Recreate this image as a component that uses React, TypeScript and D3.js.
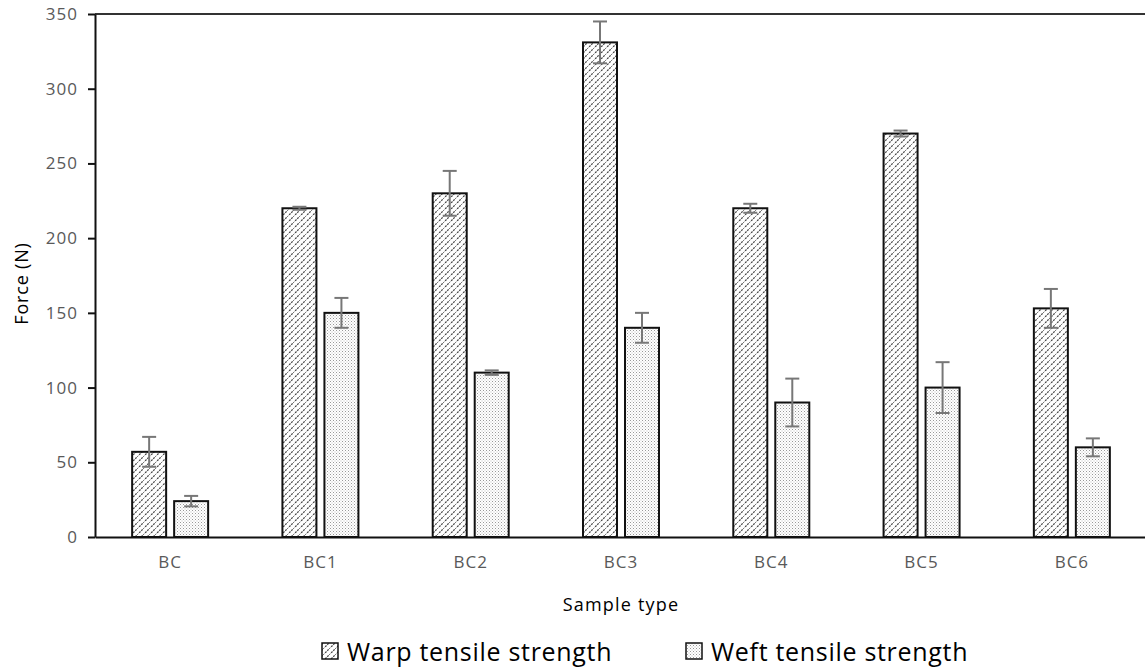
import { useEffect, useRef } from 'react';
import * as d3 from 'd3';

const categories = ['BC', 'BC1', 'BC2', 'BC3', 'BC4', 'BC5', 'BC6'];
const warpValues = [57, 220, 230, 331, 220, 270, 153];
const warpErrors = [10, 1, 15, 14, 3, 2, 13];
const weftValues = [24, 150, 110, 140, 90, 100, 60];
const weftErrors = [3.5, 10, 1.5, 10, 16, 17, 6];
const yTicks = [0, 50, 100, 150, 200, 250, 300, 350];
const seriesNames = ['Warp tensile strength', 'Weft tensile strength'];

const FONT = '"Open Sans", sans-serif';

const App = () => {
  const svgRef = useRef<SVGSVGElement>(null);

  useEffect(() => {
    if (!svgRef.current) return;
    const svg = d3.select(svgRef.current);
    svg.selectAll('*').remove();

    const left = 95;
    const right = 1147;
    const top = 14;
    const bottom = 537;

    // Patterns for the two series
    const defs = svg.append('defs');
    const hatch = defs.append('pattern')
      .attr('id', 'warp')
      .attr('patternUnits', 'userSpaceOnUse')
      .attr('width', 6)
      .attr('height', 6);
    hatch.append('rect').attr('width', 6).attr('height', 6).attr('fill', '#fff');
    hatch.append('path')
      .attr('d', 'M-1,7 L7,-1 M-4,4 L4,-4 M2,10 L10,2')
      .attr('stroke', '#444')
      .attr('stroke-width', 1.2)
      .attr('stroke-dasharray', '2,1');

    const dots = defs.append('pattern')
      .attr('id', 'weft')
      .attr('patternUnits', 'userSpaceOnUse')
      .attr('width', 3)
      .attr('height', 3);
    dots.append('rect').attr('width', 3).attr('height', 3).attr('fill', '#fff');
    dots.append('rect').attr('x', 0).attr('y', 0).attr('width', 1).attr('height', 1).attr('fill', '#999');
    dots.append('rect').attr('x', 1.5).attr('y', 1.5).attr('width', 1).attr('height', 1).attr('fill', '#bbb');

    const x = d3.scaleBand<string>().domain(categories).range([left, right]);
    const y = d3.scaleLinear().domain([0, 350]).range([bottom, top]);

    const barW = 34;
    const offset = 21;

    // top border line
    svg.append('line')
      .attr('x1', left).attr('x2', 1145)
      .attr('y1', y(350)).attr('y2', y(350))
      .attr('stroke', '#333').attr('stroke-width', 2);

    const series = [
      { values: warpValues, errors: warpErrors, fill: 'url(#warp)', dx: -offset },
      { values: weftValues, errors: weftErrors, fill: 'url(#weft)', dx: offset },
    ];

    series.forEach(s => {
      const g = svg.append('g');
      g.selectAll('rect')
        .data(categories)
        .join('rect')
        .attr('x', (c) => x(c)! + x.bandwidth() / 2 + s.dx - barW / 2)
        .attr('y', (_, i) => y(s.values[i]))
        .attr('width', barW)
        .attr('height', (_, i) => bottom - y(s.values[i]))
        .attr('fill', s.fill)
        .attr('stroke', '#111')
        .attr('stroke-width', 2);

      const eb = svg.append('g').attr('stroke', '#777').attr('stroke-width', 2);
      categories.forEach((c, i) => {
        const cx = x(c)! + x.bandwidth() / 2 + s.dx;
        const hi = y(s.values[i] + s.errors[i]);
        const lo = y(s.values[i] - s.errors[i]);
        eb.append('line').attr('x1', cx).attr('x2', cx).attr('y1', hi).attr('y2', lo);
        eb.append('line').attr('x1', cx - 7).attr('x2', cx + 7).attr('y1', hi).attr('y2', hi);
        eb.append('line').attr('x1', cx - 7).attr('x2', cx + 7).attr('y1', lo).attr('y2', lo);
      });
    });

    // Y axis
    const yAxis = svg.append('g')
      .attr('transform', `translate(${left},0)`)
      .call(d3.axisLeft(y).tickValues(yTicks).tickSize(7).tickPadding(10).tickSizeOuter(0));
    yAxis.select('.domain').attr('stroke', '#111').attr('stroke-width', 2);
    yAxis.selectAll('.tick line').attr('stroke', '#111').attr('stroke-width', 2);
    yAxis.selectAll('.tick text')
      .attr('fill', '#595959')
      .attr('font-family', FONT)
      .attr('font-size', 17)
      .attr('letter-spacing', 1);

    // X axis
    const xAxis = svg.append('g')
      .attr('transform', `translate(0,${bottom})`)
      .call(d3.axisBottom(x).tickSize(0).tickPadding(19));
    xAxis.select('.domain').attr('stroke', '#111').attr('stroke-width', 2);
    xAxis.selectAll('.tick text')
      .attr('fill', '#595959')
      .attr('font-family', FONT)
      .attr('font-size', 17)
      .attr('letter-spacing', 1);

    svg.append('text')
      .attr('transform', `translate(28,${(top + bottom) / 2 + 8}) rotate(-90)`)
      .attr('text-anchor', 'middle')
      .attr('font-family', FONT)
      .attr('font-size', 18)
      .attr('letter-spacing', 0.8)
      .attr('fill', '#000')
      .text('Force (N)');

    svg.append('text')
      .attr('x', 621)
      .attr('y', 611)
      .attr('text-anchor', 'middle')
      .attr('font-family', FONT)
      .attr('font-size', 18)
      .attr('letter-spacing', 1.2)
      .attr('fill', '#000')
      .text('Sample type');

    // Legend
    const legendX = [322, 686];
    const fills = ['url(#warp)', 'url(#weft)'];
    seriesNames.forEach((name, i) => {
      svg.append('rect')
        .attr('x', legendX[i]).attr('y', 643)
        .attr('width', 16).attr('height', 16)
        .attr('fill', fills[i])
        .attr('stroke', '#111').attr('stroke-width', 1.5);
      svg.append('text')
        .attr('x', legendX[i] + 25)
        .attr('y', 661)
        .attr('font-family', FONT)
        .attr('font-size', 25)
        .attr('letter-spacing', 0.7)
        .attr('fill', '#000')
        .text(name);
    });
  }, []);

  return (
    <svg
      ref={svgRef}
      width={1145}
      height={667}
      style={{ position: 'absolute', left: 0, top: 0, background: '#fff' }}
    />
  );
};

export default App;
